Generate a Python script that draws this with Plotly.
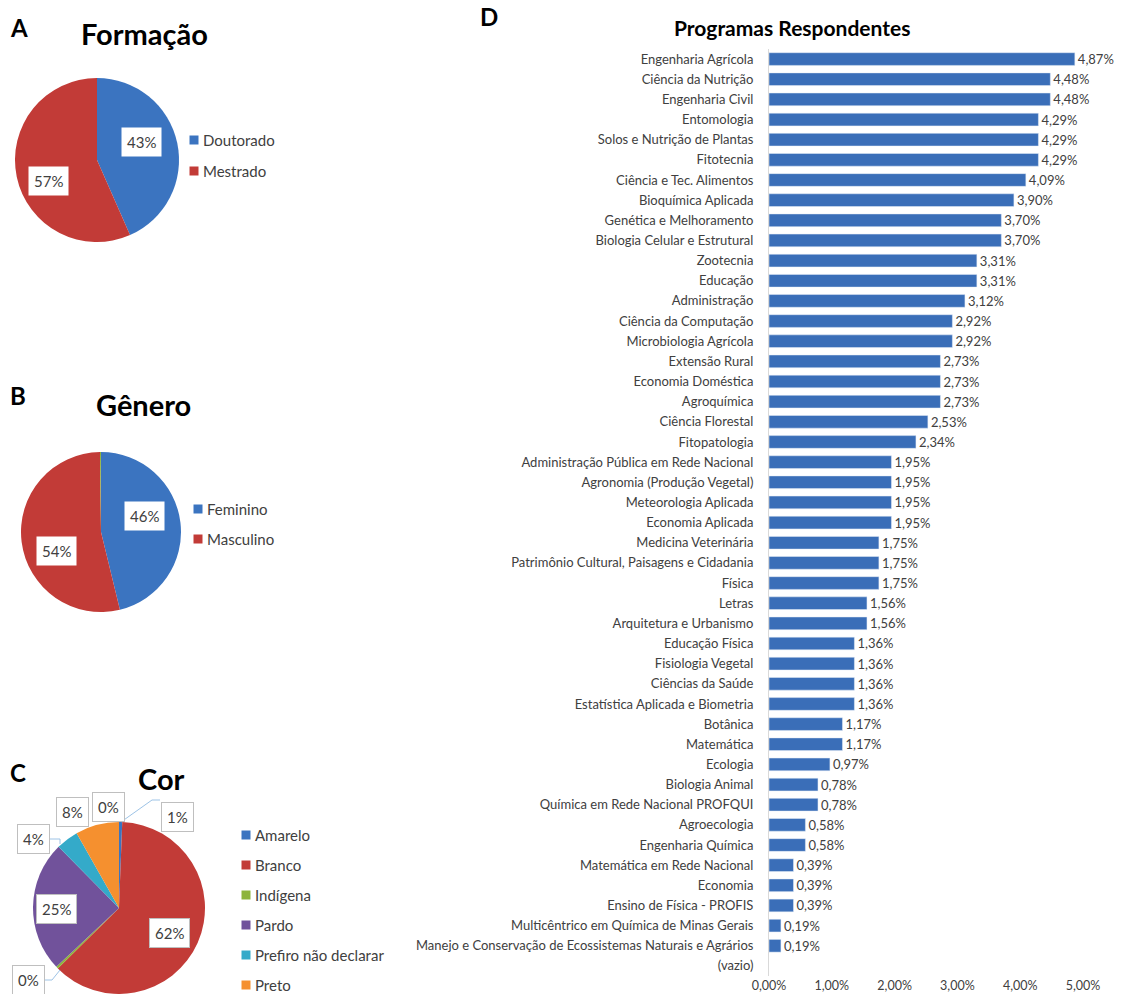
import math
import plotly.graph_objects as go

W, H = 1128, 994

# ---------------- DATA ----------------
formacao_labels = ["Doutorado", "Mestrado"]
formacao_values = [43.4, 56.6]

genero_labels = ["Feminino", "Masculino", ""]
genero_values = [46.2, 53.6, 0.2]

cor_labels = ["Amarelo", "Branco", "Indígena", "Pardo", "Prefiro não declarar", "Preto", ""]
cor_values = [0.6, 62.0, 0.4, 24.6, 4.2, 8.2, 0.0]

programas = [
    "Engenharia Agrícola", "Ciência da Nutrição", "Engenharia Civil", "Entomologia",
    "Solos e Nutrição de Plantas", "Fitotecnia", "Ciência e Tec. Alimentos",
    "Bioquímica Aplicada", "Genética e Melhoramento", "Biologia Celular e Estrutural",
    "Zootecnia", "Educação", "Administração", "Ciência da Computação",
    "Microbiologia Agrícola", "Extensão Rural", "Economia Doméstica", "Agroquímica",
    "Ciência Florestal", "Fitopatologia", "Administração Pública em Rede Nacional",
    "Agronomia (Produção Vegetal)", "Meteorologia Aplicada", "Economia Aplicada",
    "Medicina Veterinária", "Patrimônio Cultural, Paisagens e Cidadania", "Física",
    "Letras", "Arquitetura e Urbanismo", "Educação Física", "Fisiologia Vegetal",
    "Ciências da Saúde", "Estatística Aplicada e Biometria", "Botânica", "Matemática",
    "Ecologia", "Biologia Animal", "Química em Rede Nacional PROFQUI", "Agroecologia",
    "Engenharia Química", "Matemática em Rede Nacional", "Economia",
    "Ensino de Física - PROFIS", "Multicêntrico em Química de Minas Gerais",
    "Manejo e Conservação de Ecossistemas Naturais e Agrários", "(vazio)",
]
programas_values = [
    4.87, 4.48, 4.48, 4.29, 4.29, 4.29, 4.09, 3.90, 3.70, 3.70,
    3.31, 3.31, 3.12, 2.92, 2.92, 2.73, 2.73, 2.73, 2.53, 2.34,
    1.95, 1.95, 1.95, 1.95, 1.75, 1.75, 1.75, 1.56, 1.56, 1.36,
    1.36, 1.36, 1.36, 1.17, 1.17, 0.97, 0.78, 0.78, 0.58, 0.58,
    0.39, 0.39, 0.39, 0.19, 0.19, None,
]
x_ticks = [0, 1, 2, 3, 4, 5]

# ---------------- STYLE ----------------
FONT = "Lato"
TXT = "#404040"
C_BLUE = "#3b74c0"
C_RED = "#c23b37"
C_GREEN = "#8db43c"
C_PURPLE = "#71529b"
C_CYAN = "#34aac9"
C_ORANGE = "#f5902f"
BAR_COLOR = "#3a6eb8"


def px(x):
    return x / W


def py(y):
    return 1 - y / H


def pie_domain(cx, cy, r):
    return dict(x=[px(cx - r), px(cx + r)], y=[py(cy + r), py(cy - r)])


fig = go.Figure()

pies = [
    dict(labels=formacao_labels, values=formacao_values, colors=[C_BLUE, C_RED],
         cx=97, cy=160, r=82),
    dict(labels=genero_labels, values=genero_values, colors=[C_BLUE, C_RED, C_GREEN],
         cx=101, cy=532, r=80),
    dict(labels=cor_labels, values=cor_values,
         colors=[C_BLUE, C_RED, C_GREEN, C_PURPLE, C_CYAN, C_ORANGE, "#7f7f7f"],
         cx=119, cy=908, r=86),
]
for p in pies:
    fig.add_trace(go.Pie(
        labels=p["labels"], values=p["values"], sort=False, direction="clockwise",
        rotation=0, textinfo="none", hoverinfo="label+percent", showlegend=False,
        automargin=False,
        marker=dict(colors=p["colors"], line=dict(width=0)),
        domain=pie_domain(p["cx"], p["cy"], p["r"]),
    ))

# bar chart
bar_text = ["" if v is None else f"{v:.2f}".replace(".", ",") + "%" for v in programas_values]
fig.add_trace(go.Bar(
    y=programas, x=programas_values, orientation="h", marker=dict(color=BAR_COLOR),
    text=bar_text, textposition="outside", cliponaxis=False, constraintext="none",
    textfont=dict(family=FONT, size=13, color=TXT), showlegend=False,
    xaxis="x", yaxis="y",
))

annotations = []
shapes = []

# Panel letters & titles
for t, x, y, s in [("A", 19, 27, 24), ("B", 18, 395, 24), ("C", 18, 772, 24), ("D", 489, 17, 24)]:
    annotations.append(dict(text=f"<b>{t}</b>", x=px(x), y=py(y), xref="paper", yref="paper",
                            showarrow=False, font=dict(family=FONT, size=s, color="black"),
                            xanchor="center", yanchor="middle"))
for t, x, y, s in [("Formação", 144, 33, 29), ("Gênero", 143, 404, 29), ("Cor", 161, 778, 29),
                   ("Programas Respondentes", 792, 27, 21)]:
    annotations.append(dict(text=f"<b>{t}</b>", x=px(x), y=py(y), xref="paper", yref="paper",
                            showarrow=False, font=dict(family=FONT, size=s, color="black"),
                            xanchor="center", yanchor="middle"))

# Manual legends (square + text)
legends = [
    (formacao_labels, [C_BLUE, C_RED], 194, [140, 171]),
    (genero_labels[:2], [C_BLUE, C_RED], 198, [509, 539]),
    (cor_labels[:6], [C_BLUE, C_RED, C_GREEN, C_PURPLE, C_CYAN, C_ORANGE], 246,
     [835, 865, 895, 925, 955, 985]),
]
for labels, colors, sx, ys in legends:
    for lab, col, yy in zip(labels, colors, ys):
        shapes.append(dict(type="rect", xref="paper", yref="paper",
                           x0=px(sx - 4.5), x1=px(sx + 4.5), y0=py(yy + 4.5), y1=py(yy - 4.5),
                           fillcolor=col, line=dict(width=0)))
        annotations.append(dict(text=lab, x=px(sx + 7), y=py(yy), xref="paper", yref="paper",
                                showarrow=False, xanchor="left", yanchor="middle",
                                font=dict(family=FONT, size=15, color=TXT)))


def pct(v, vals):
    return f"{round(100 * v / sum(vals))}%"


label_pos_A = [(141, 142), (48, 181)]
label_pos_B = [(144, 516), (56, 551)]
label_pos_C = [(177, 817), (169, 933), (28, 980), (57, 909), (33, 839), (72, 812), (108, 807)]

for vals, poss, border in [(formacao_values, label_pos_A, "rgba(0,0,0,0)"),
                           (genero_values, label_pos_B, "rgba(0,0,0,0)"),
                           (cor_values, label_pos_C, "#bfbfbf")]:
    for v, (x, y) in zip(vals, poss):
        annotations.append(dict(text=pct(v, vals), x=px(x), y=py(y),
                                xref="paper", yref="paper", showarrow=False,
                                xanchor="center", yanchor="middle",
                                bgcolor="white", bordercolor=border, borderwidth=1, borderpad=5,
                                font=dict(family=FONT, size=15, color=TXT)))

# leader lines for pie C
leaders = [
    [(121, 822), (152, 800), (160, 800)],
    [(60, 844), (60, 839), (50, 839)],
    [(60, 970), (52, 980), (43, 980)],
]
for pts in leaders:
    path = "M " + " L ".join(f"{px(x)},{py(y)}" for x, y in pts)
    shapes.append(dict(type="path", xref="paper", yref="paper", path=path,
                       line=dict(color="#9dc3e6", width=1)))

fig.update_layout(
    width=W, height=H, autosize=False,
    margin=dict(l=0, r=0, t=0, b=0, pad=0, autoexpand=False),
    paper_bgcolor="white", plot_bgcolor="white",
    separators=",.",
    font=dict(family=FONT, color=TXT),
    bargap=0.37,
    xaxis=dict(domain=[px(769), px(1083)], range=[0, 5], tickvals=x_ticks,
               ticktext=[f"{t:.2f}".replace(".", ",") + "%" for t in x_ticks],
               showgrid=False, zeroline=False, showline=False, ticks="", automargin=False,
               tickfont=dict(family=FONT, size=12.5, color=TXT), fixedrange=True),
    yaxis=dict(domain=[py(976), py(49)], autorange="reversed", type="category",
               showgrid=False, zeroline=False, showline=True, linecolor="#d9d9d9", linewidth=1,
               ticks="", ticklabelstandoff=12, automargin=False,
               tickfont=dict(family=FONT, size=13, color=TXT), fixedrange=True),
    annotations=annotations,
    shapes=shapes,
)

fig.write_html("out.html", config={"displayModeBar": False},
               post_script="document.body.style.margin='0';document.body.style.overflow='hidden';")
